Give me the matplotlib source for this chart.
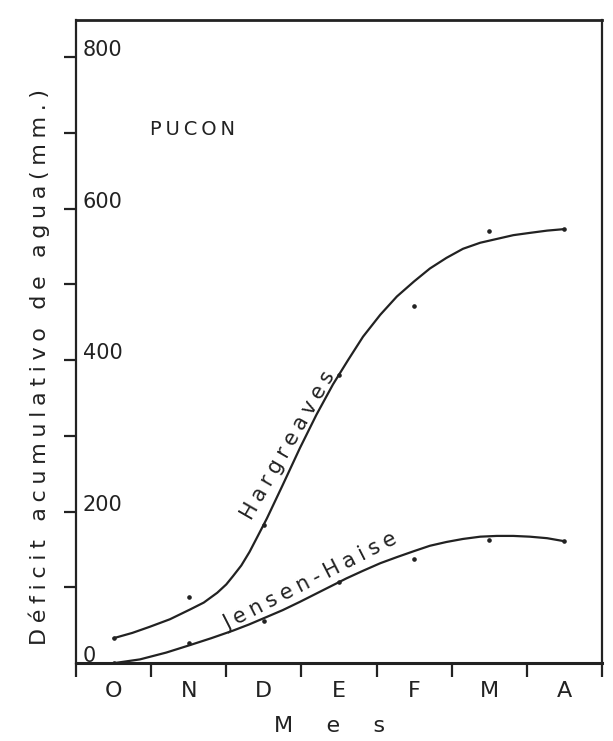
import numpy as np
import matplotlib.pyplot as plt

# meses de la temporada (octubre a abril)
months = ["O", "N", "D", "E", "F", "M", "A"]
month_pos = np.arange(len(months)) + 0.5

# curvas ajustadas: posicion en meses y deficit acumulado (mm)
harg_x = [0.5, 0.75, 0.98, 1.25, 1.52, 1.7, 1.88, 2.0, 2.09, 2.2, 2.31,
          2.42, 2.54, 2.75, 2.98, 3.2, 3.42, 3.62, 3.82, 4.05, 4.27, 4.5,
          4.71, 4.93, 5.15, 5.38, 5.6, 5.82, 6.04, 6.27, 6.5]
harg_y = [33, 40, 48, 58, 71, 80, 93, 104, 115, 129, 147,
          168, 191, 235, 284, 328, 368, 400, 431, 460, 484, 504,
          521, 535, 547, 555, 560, 565, 568, 571, 573]
jh_x = [0.5, 0.85, 1.2, 1.52, 1.8, 2.09, 2.3, 2.49, 2.75, 2.98, 3.2,
        3.38, 3.6, 3.82, 4.05, 4.27, 4.5, 4.71, 4.93, 5.15, 5.38, 5.6,
        5.82, 6.04, 6.27, 6.5]
jh_y = [0, 5, 14, 24, 33, 43, 51, 59, 70, 81, 92,
        101, 112, 122, 132, 140, 148, 155, 160, 164, 167, 168,
        168, 167, 165, 161]

# valores mensuales calculados
harg_obs = [33, 87, 183, 380, 471, 571, 573]
jh_obs = [0, 27, 56, 107, 137, 163, 161]

y_ticks = [100, 200, 300, 400, 500, 600, 700, 800]
y_labels = [0, 200, 400, 600, 800]

ink = "#222222"


def spaced(s, gap="\u2009"):
    return gap.join(s)


fig = plt.figure(figsize=(6.13, 7.41), dpi=100)
ax = fig.add_axes([0.124, 0.105, 0.858, 0.868])

ax.plot(harg_x, harg_y, color=ink, lw=1.6, solid_capstyle="round",
        solid_joinstyle="round")
ax.plot(jh_x, jh_y, color=ink, lw=1.6, solid_capstyle="round",
        solid_joinstyle="round")
ax.plot(month_pos, harg_obs, "o", color=ink, ms=2.3)
ax.plot(month_pos, jh_obs, "o", color=ink, ms=2.3)

ax.set_xlim(0, 7)
ax.set_ylim(0, 849)

for side in ["left", "right", "top", "bottom"]:
    ax.spines[side].set_color(ink)
    ax.spines[side].set_linewidth(1.6)
ax.spines["bottom"].set_linewidth(2.2)
ax.spines["top"].set_linewidth(2.0)

# marcas entre meses, nombres de mes centrados
ax.set_xticks(range(8))
ax.set_xticklabels([])
ax.set_xticks(month_pos, minor=True)
ax.set_xticklabels(months, minor=True)
ax.tick_params(axis="x", which="major", direction="out", length=10,
               width=1.6, color=ink)
ax.tick_params(axis="x", which="minor", length=0, pad=13,
               labelsize=16, labelcolor=ink)

ax.set_yticks(y_ticks)
ax.set_yticklabels([])
ax.tick_params(axis="y", direction="out", length=9, width=1.6, color=ink)

# rotulos del eje y dentro del marco
for v in y_labels:
    ax.annotate(str(v), xy=(0, v), xytext=(5, 5), textcoords="offset points",
                ha="left", va="center", fontsize=15, color=ink)

ax.set_xlabel(spaced("Mes", "\u2003\u2002"), fontsize=16, color=ink)
ax.xaxis.set_label_coords(0.483, -0.082)
ax.set_ylabel(spaced("Déficit acumulativo de agua(mm.)", "\u2005"),
              fontsize=16, color=ink)
ax.yaxis.set_label_coords(-0.05, 0.46)

ax.text(0.98, 704, spaced("PUCON", "\u2009"), fontsize=14, color=ink,
        ha="left", va="center")
ax.text(2.82, 288, spaced("Hargreaves", "\u2005"), fontsize=15, color=ink,
        rotation=60, rotation_mode="anchor", ha="center", va="center")
ax.text(3.11, 108, spaced("Jensen-Haise", "\u2005"), fontsize=15, color=ink,
        rotation=27, rotation_mode="anchor", ha="center", va="center")

fig.savefig("out.png", dpi=100, facecolor="white")
